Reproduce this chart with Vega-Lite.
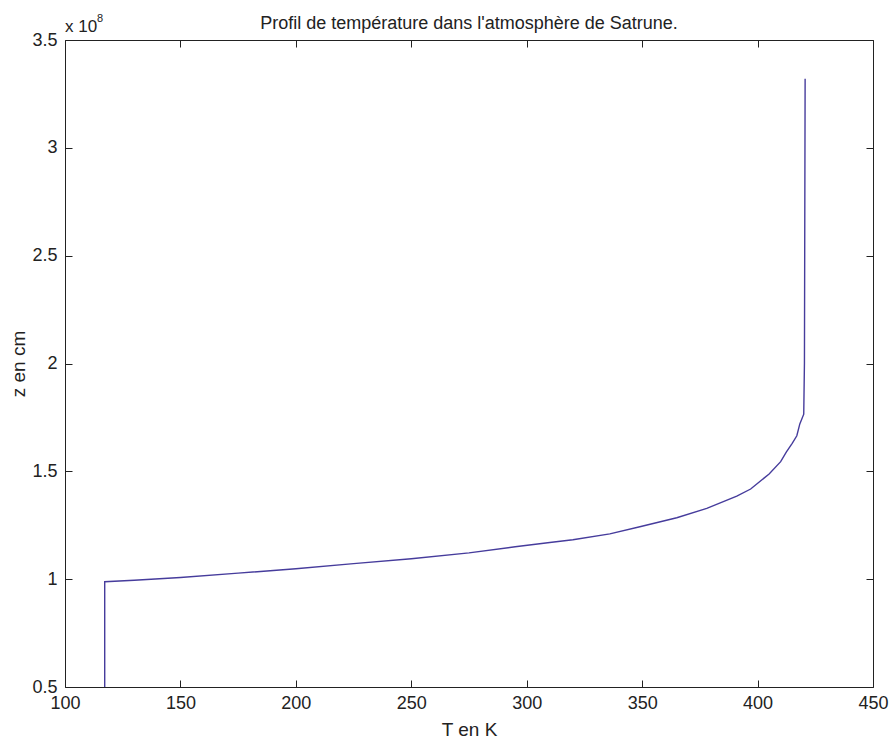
{
  "$schema": "https://vega.github.io/schema/vega-lite/v6.json",
  "width": 808,
  "height": 647,
  "autosize": "none",
  "padding": {"left": 65, "top": 40, "right": 20, "bottom": 56},
  "background": "white",
  "title": {"text": "Profil de température dans l'atmosphère de Satrune.", "font": "Liberation Sans", "fontSize": 18, "fontWeight": "normal", "color": "#222", "offset": -34, "baseline": "alphabetic", "anchor": "middle", "frame": "group"},
  "config": {
    "view": {"stroke": "#222", "strokeWidth": 1},
    "axis": {"labelFont": "Liberation Sans", "titleFont": "Liberation Sans", "labelFontSize": 18, "titleFontSize": 19, "titleFontWeight": "normal", "labelColor": "#222", "titleColor": "#222", "grid": false, "domain": false, "tickColor": "#222", "tickSize": -7}
  },
  "layer": [
    {
      "data": {"values": [
        {"i": 0, "T": 117.2, "z": 0.5},
        {"i": 1, "T": 117.2, "z": 0.988},
        {"i": 2, "T": 130, "z": 0.995},
        {"i": 3, "T": 150, "z": 1.008},
        {"i": 4, "T": 175, "z": 1.028},
        {"i": 5, "T": 200, "z": 1.048},
        {"i": 6, "T": 225, "z": 1.072},
        {"i": 7, "T": 250, "z": 1.095},
        {"i": 8, "T": 275, "z": 1.122},
        {"i": 9, "T": 295, "z": 1.15},
        {"i": 10, "T": 310, "z": 1.17},
        {"i": 11, "T": 320, "z": 1.183},
        {"i": 12, "T": 336, "z": 1.21},
        {"i": 13, "T": 349, "z": 1.243},
        {"i": 14, "T": 365, "z": 1.285},
        {"i": 15, "T": 378, "z": 1.328},
        {"i": 16, "T": 391, "z": 1.385},
        {"i": 17, "T": 397, "z": 1.418},
        {"i": 18, "T": 405, "z": 1.488},
        {"i": 19, "T": 410, "z": 1.545},
        {"i": 20, "T": 412.5, "z": 1.59},
        {"i": 21, "T": 415, "z": 1.63},
        {"i": 22, "T": 417, "z": 1.665},
        {"i": 23, "T": 418.3, "z": 1.72},
        {"i": 24, "T": 420, "z": 1.765},
        {"i": 25, "T": 420.3, "z": 2.0},
        {"i": 26, "T": 420.6, "z": 3.32}
      ]},
      "mark": {"type": "line", "color": "#463c9c", "strokeWidth": 1.4, "interpolate": "linear"},
      "encoding": {
        "x": {"field": "T", "type": "quantitative", "scale": {"domain": [100, 450], "nice": false, "zero": false},
              "axis": {"orient": "bottom", "values": [100,150,200,250,300,350,400,450], "title": "T en K", "labelPadding": 14, "titleY": 33, "labelFlush": false}},
        "y": {"field": "z", "type": "quantitative", "scale": {"domain": [0.5, 3.5], "nice": false, "zero": false},
              "axis": {"orient": "left", "values": [0.5,1,1.5,2,2.5,3,3.5], "format": "~g", "title": "z en cm", "labelPadding": 15, "titleX": -37, "labelFlush": false}},
        "order": {"field": "i", "type": "quantitative"}
      }
    },
    {
      "data": {"values": [{"label": "x 10"}]},
      "mark": {"type": "text", "font": "Liberation Sans", "fontSize": 17, "color": "#222", "align": "left", "baseline": "alphabetic", "dx": 0, "dy": -8},
      "encoding": {
        "x": {"datum": 100, "type": "quantitative", "axis": {"orient": "top", "values": [100,150,200,250,300,350,400,450], "labels": false, "title": null}},
        "y": {"datum": 3.5, "type": "quantitative", "axis": {"orient": "right", "values": [0.5,1,1.5,2,2.5,3,3.5], "labels": false, "title": null}},
        "text": {"field": "label"}
      }
    },
    {
      "data": {"values": [{"label": "8"}]},
      "mark": {"type": "text", "font": "Liberation Sans", "fontSize": 11, "color": "#222", "align": "left", "baseline": "alphabetic", "dx": 32, "dy": -18},
      "encoding": {
        "x": {"datum": 100, "type": "quantitative", "axis": null},
        "y": {"datum": 3.5, "type": "quantitative", "axis": null},
        "text": {"field": "label"}
      }
    }
  ],
  "resolve": {"axis": {"x": "independent", "y": "independent"}}
}
